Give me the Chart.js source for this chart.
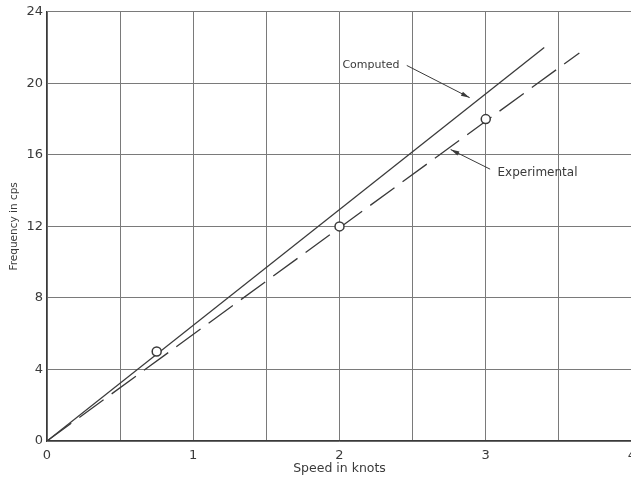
<!DOCTYPE html>
<html>
<head>
<meta charset="utf-8">
<script src="https://cdn.jsdelivr.net/npm/chart.js@4/dist/chart.umd.min.js"></script>
<style>
  html, body { margin: 0; padding: 0; overflow: hidden; background: #fff; }
  #wrap { width: 660px; height: 479px; }
</style>
</head>
<body>
<div id="wrap"><canvas id="freqChart" width="660" height="479"></canvas></div>
<script>
// speed (knots) vs frequency (cps)
const computedX = [0, 3.4];
const computedY = [0, 22.0];
const experimentalX = [0, 3.64];
const experimentalY = [0, 21.7];
const measuredX = [0.75, 2, 3];
const measuredY = [5, 12, 18];

const xTicks = [0, 1, 2, 3, 4];
const yTicks = [0, 4, 8, 12, 16, 20, 24];

// callout labels: text, text anchor, leader start, leader end (data units)
const calloutText = ['Computed', 'Experimental'];
const calloutAt = [[2.02, 21.0], [3.08, 15.0]];
const leaderFrom = [[2.46, 21.0], [3.03, 15.2]];
const leaderTo = [[2.89, 19.2], [2.76, 16.3]];

const ink = '#3a3a3a';
const font = '"DejaVu Sans", sans-serif';

const toPts = (xs, ys) => xs.map((x, i) => ({ x: x, y: ys[i] }));

const callouts = {
  id: 'callouts',
  afterDatasetsDraw(chart) {
    const ctx = chart.ctx;
    const sx = chart.scales.x, sy = chart.scales.y;
    ctx.save();
    ctx.fillStyle = ink;
    ctx.strokeStyle = ink;
    ctx.lineWidth = 1;
    ctx.textBaseline = 'middle';
    calloutText.forEach((t, i) => {
      ctx.font = (i === 0 ? '11px ' : '12px ') + font;
      ctx.fillText(t, sx.getPixelForValue(calloutAt[i][0]), sy.getPixelForValue(calloutAt[i][1]));
      const x1 = sx.getPixelForValue(leaderFrom[i][0]), y1 = sy.getPixelForValue(leaderFrom[i][1]);
      const x2 = sx.getPixelForValue(leaderTo[i][0]), y2 = sy.getPixelForValue(leaderTo[i][1]);
      ctx.beginPath();
      ctx.moveTo(x1, y1);
      ctx.lineTo(x2, y2);
      ctx.stroke();
      // arrow head
      const a = Math.atan2(y2 - y1, x2 - x1);
      ctx.beginPath();
      ctx.moveTo(x2, y2);
      ctx.lineTo(x2 - 9 * Math.cos(a - 0.25), y2 - 9 * Math.sin(a - 0.25));
      ctx.lineTo(x2 - 9 * Math.cos(a + 0.25), y2 - 9 * Math.sin(a + 0.25));
      ctx.closePath();
      ctx.fill();
    });
    ctx.restore();
  }
};

new Chart(document.getElementById('freqChart'), {
  type: 'scatter',
  data: {
    datasets: [
      {
        label: 'Measured',
        data: toPts(measuredX, measuredY),
        pointRadius: 4.5,
        pointBackgroundColor: '#fff',
        pointBorderColor: ink,
        pointBorderWidth: 1.5
      },
      {
        label: 'Computed',
        data: toPts(computedX, computedY),
        showLine: true,
        borderColor: ink,
        borderWidth: 1.3,
        pointRadius: 0
      },
      {
        label: 'Experimental',
        data: toPts(experimentalX, experimentalY),
        showLine: true,
        borderColor: ink,
        borderWidth: 1.3,
        borderDash: [30, 10],
        pointRadius: 0
      }
    ]
  },
  options: {
    responsive: false,
    animation: false,
    layout: { padding: { top: 3, right: 28, left: 0, bottom: 0 } },
    plugins: { legend: { display: false }, tooltip: { enabled: false } },
    scales: {
      x: {
        type: 'linear',
        min: 0,
        max: 4,
        afterFit: s => { s.height = 38; },
        afterBuildTicks: s => {
          const t = [];
          for (let v = 0; v <= 4; v += 0.5) t.push({ value: v });
          s.ticks = t;
        },
        ticks: {
          color: ink,
          font: { family: font, size: 13 },
          padding: 7,
          maxRotation: 0,
          autoSkip: false,
          callback: v => xTicks.includes(v) ? String(v) : ''
        },
        grid: { color: '#7a7a7a', lineWidth: 1, drawTicks: false },
        border: { color: ink, width: 1.3 },
        title: {
          display: true,
          text: 'Speed in knots',
          color: ink,
          font: { family: font, size: 12.5 },
          padding: { top: 2, bottom: 3 }
        }
      },
      y: {
        type: 'linear',
        min: 0,
        max: 24,
        afterFit: s => { s.width = 47; },
        afterBuildTicks: s => { s.ticks = yTicks.map(v => ({ value: v })); },
        ticks: {
          color: ink,
          font: { family: font, size: 13 },
          padding: 4
        },
        grid: { color: '#7a7a7a', lineWidth: 1, drawTicks: false },
        border: { color: ink, width: 1.3 },
        title: {
          display: true,
          text: 'Frequency in cps',
          color: ink,
          font: { family: font, size: 10.5 },
          padding: { top: 8, bottom: 0 }
        }
      }
    }
  },
  plugins: [callouts]
});
</script>
</body>
</html>
